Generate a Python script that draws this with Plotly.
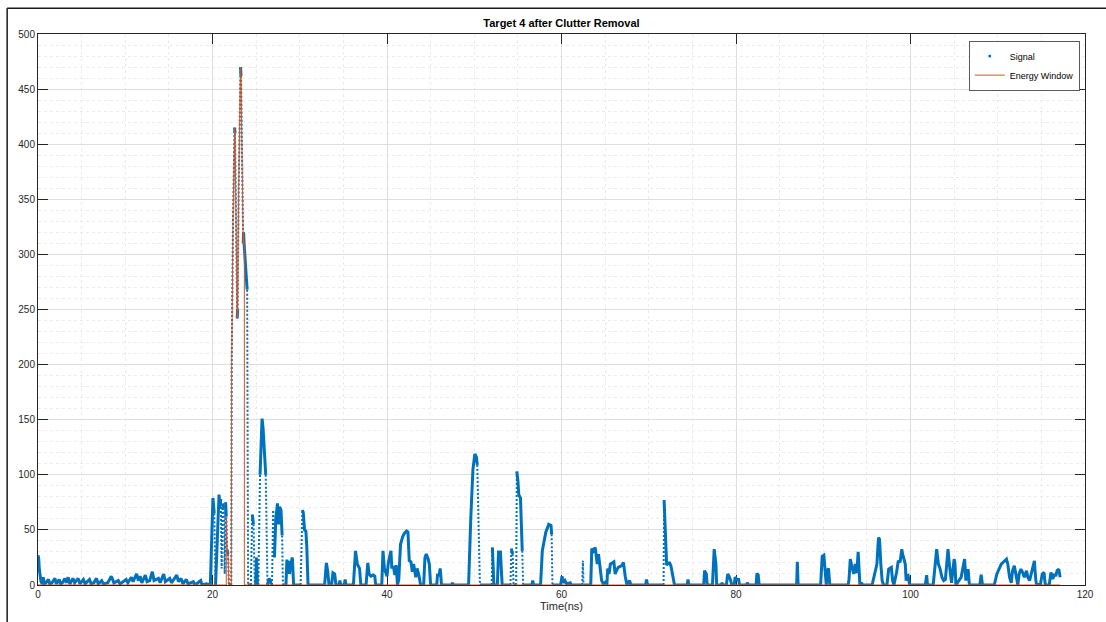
import numpy as np
import plotly.graph_objects as go

# Received signal after clutter removal (time in ns, amplitude)
time_ns = [
    0.0, 0.08, 0.15, 0.25, 0.35, 0.5, 0.6, 0.7, 0.9, 1.2, 1.35, 1.6, 1.94, 2.1, 2.43, 2.6, 2.8,
    3.07, 3.25, 3.45, 3.65, 4.0, 4.2, 4.6, 4.8, 5.2, 5.4, 5.9, 6.1, 6.4, 6.7, 6.9, 7.3, 7.5,
    8.0, 8.4, 8.7, 9.2, 9.4, 10.1, 10.3, 10.7, 10.9, 11.3, 11.5, 11.7, 11.9, 12.3, 12.5, 12.8,
    13.1, 13.3, 13.8, 14.0, 14.4, 14.6, 15.1, 15.3, 15.9, 16.1, 16.4, 16.6, 17.0, 17.2, 17.8,
    18.0, 18.5, 18.65, 18.8, 19.3, 19.75,
    19.9, 20.05, 20.2, 20.35, 20.55, 20.75, 20.85, 20.95, 21.05, 21.15, 21.3, 21.4, 21.5,
    21.58, 21.68, 21.78, 21.88, 22.15,
    22.2, 22.35, 22.53, 22.58, 22.7, 22.83, 22.88, 23.0, 23.21, 23.27, 23.4, 23.52, 23.56,
    23.65, 23.8, 23.97, 24.08,
    24.4, 24.55, 24.7, 24.85, 24.95, 25.05, 25.15, 25.25, 25.45, 25.68, 25.8, 26.1, 26.3,
    26.5, 26.7, 26.82, 26.95, 27.1, 27.25, 27.45, 27.58, 27.7, 27.85, 27.98, 28.07,
    28.42, 28.53, 28.62, 28.72, 28.82, 28.95, 29.15, 29.3,
    30.1, 30.3, 30.4, 30.55, 30.7, 30.8, 30.95,
    32.85, 33.05, 33.2, 33.35, 33.65, 33.8, 34.0, 34.15, 34.5, 34.6, 34.7, 35.1, 35.2, 35.3,
    36.15, 36.39, 36.6, 36.85, 37.0, 37.6, 37.8, 37.95, 38.15, 38.4, 38.6, 38.7,
    39.4, 39.54, 39.7, 39.9, 40.0, 40.15, 40.45, 40.55, 40.75, 40.9, 41.05, 41.2, 41.35,
    41.55, 41.8, 42.0, 42.25, 42.4, 42.55, 42.75, 42.9, 43.05, 43.3, 43.45, 43.65, 43.85,
    44.2, 44.35, 44.5, 44.7, 44.85, 45.0, 45.7, 45.8, 45.95, 46.1, 46.25, 47.4, 47.5, 47.6,
    49.35, 49.6, 49.85, 50.07, 50.25, 50.35, 50.65,
    52.0, 52.08, 52.25, 52.65, 52.78, 53.0, 53.2,
    54.15, 54.25, 54.4, 54.5, 54.8, 54.88, 55.0, 55.1, 55.3, 55.4, 55.5, 55.6,
    56.6, 56.7, 56.8, 57.6, 57.8, 58.2, 58.35, 58.54, 58.8, 58.87, 58.96,
    59.9, 60.06, 60.2, 60.4, 60.6, 61.0, 61.1, 62.38, 62.45, 62.52,
    63.35, 63.47, 63.65, 63.86, 64.0, 64.1, 64.24, 64.4, 64.5, 64.6, 64.8, 65.1, 65.2,
    65.3, 65.45, 65.6, 66.0, 66.15, 66.3, 66.5, 66.9, 67.1, 67.3, 67.5, 67.8, 67.95,
    69.65, 69.74, 69.85,
    71.7, 71.76, 71.9, 72.05, 72.25, 72.4, 72.55, 72.8, 72.95,
    74.4, 74.5, 74.6, 76.3, 76.4, 76.6, 76.7, 77.3, 77.5, 77.7, 77.78,
    78.3, 78.4, 78.5, 78.9, 79.05, 79.2, 79.4, 79.5, 79.8, 79.9, 80.1, 80.3, 80.4,
    81.2, 81.3, 81.45, 82.3, 82.4, 82.55, 82.65,
    86.95, 87.03, 87.12,
    89.7, 89.88, 90.07, 90.2, 90.35, 90.45, 90.6, 90.75,
    92.85, 92.95, 93.1, 93.3, 93.5, 93.67, 93.85, 94.0, 94.1, 94.2, 94.4, 94.5,
    95.6, 95.8, 96.0, 96.15, 96.33, 96.45, 96.6, 96.75, 96.9,
    97.3, 97.5, 97.8, 97.95, 98.1, 98.4, 98.6, 98.8, 99.0, 99.1, 99.3, 99.4, 99.5, 99.7, 99.9,
    101.7, 101.85, 101.95,
    102.6, 102.8, 103.0, 103.2, 103.4, 103.6, 103.8, 104.0, 104.15, 104.3, 104.45, 104.6,
    104.7, 105.0, 105.1, 105.2, 105.8, 106.2, 106.35, 106.6, 106.75,
    107.95, 108.1, 108.25,
    109.6, 109.9, 110.4, 110.8, 111.0, 111.15, 111.35, 111.55, 111.7, 111.9, 112.1, 112.3,
    112.45, 112.65, 112.85, 113.05, 113.3, 113.45, 113.65, 113.85, 114.0, 114.2, 114.3,
    114.4, 114.55, 114.9, 115.1, 115.3, 115.45, 115.9, 116.1, 116.3, 116.5, 116.65, 116.8,
    117.0, 117.15,
]
signal = [
    27, 24, 14, 8, 3, 1, 7, 1, 2, 5, 1, 2, 6, 1, 5, 1, 2,
    6, 2, 7, 1, 6, 2, 6, 1, 5, 1, 5, 1, 2, 6, 1, 4, 1,
    2, 8, 2, 4, 1, 5, 2, 7, 3, 10, 4, 8, 2, 9, 3, 4,
    12, 4, 6, 2, 10, 3, 6, 2, 9, 3, 6, 1, 5, 1, 3,
    0, 3, 4, 0, 1, 0,
    40, 79, 65, 0, 45, 82, 70, 78, 15, 74, 70, 10, 75,
    62, 32, 28, 0, 0,
    200, 330, 415, 410, 330, 242, 250, 360, 470, 462, 380, 310, 320,
    306, 290, 268, 0,
    0, 64, 55, 0, 0, 25, 0, 0, 100, 151, 142, 100, 0,
    6, 2, 0, 68, 25, 60, 74, 55, 71, 68, 45, 0,
    0, 23, 12, 22, 10, 18, 25, 0,
    0, 68, 66, 50, 49, 36, 0,
    0, 20, 13, 0, 0, 11, 10, 0, 0, 4, 0, 0, 5, 0,
    0, 31, 19, 15, 0, 0, 20, 10, 8, 9, 8, 0,
    0, 31, 15, 10, 8, 20, 31, 16, 16, 9, 18, 0, 5,
    37, 44, 47, 49, 48, 22, 21, 12, 19, 7, 15, 9, 0,
    0, 25, 28, 24, 19, 0, 0, 10, 8, 15, 0, 0, 2, 0,
    0, 60, 105, 119, 116, 109, 0,
    0, 34, 0, 0, 30, 30, 0,
    0, 33, 28, 0, 0, 103, 95, 82, 79, 55, 31, 0,
    0, 4, 0, 0, 31, 48, 52, 55, 54, 46, 0,
    0, 8, 2, 4, 1, 2, 0, 0, 22, 0,
    0, 33, 31, 34, 25, 19, 28, 16, 10, 4, 1, 3, 0,
    15, 10, 19, 21, 10, 13, 16, 17.5, 20.5, 8, 0, 4, 0,
    0, 5, 0,
    0, 77, 40, 18, 20, 20, 17, 7, 0,
    0, 5, 0, 0, 13, 10, 0, 0, 32.5, 19, 0,
    0, 2, 0, 0, 10, 8, 4, 0, 0, 7, 5, 5, 0,
    0, 2, 0, 0, 10.5, 9, 0,
    0, 21, 0,
    0, 26, 27, 16, 0, 13, 15, 0,
    0, 5, 23.5, 16, 10, 19, 11, 30, 10, 0, 2, 0,
    0, 7, 13, 19, 43, 41.5, 19, 4, 0,
    0, 14.4, 16, 4, 0, 11.4, 22, 20.5, 32.5, 28, 22, 19, 4, 10, 0,
    0, 9, 0,
    0, 16, 32.5, 19, 14.4, 7, 4, 5, 19, 32.5, 19, 7,
    2, 23.5, 19, 0, 7, 23.5, 4, 14.4, 0,
    0, 9.3, 0,
    0, 10, 19, 22, 23.5, 19, 7, 2, 13, 17.5, 7, 0,
    10, 14.4, 11.4, 7, 13, 7, 4, 10, 14.4, 22, 10,
    2, 0, 1, 10, 11.4, 0, 0, 11.4, 5.4, 10, 8, 13,
    14.4, 7,
]

# Gating interval of the energy window (ns)
window_start_ns = 21.58
window_end_ns = 23.65

x_ticks = [0, 20, 40, 60, 80, 100, 120]
y_ticks = [0, 50, 100, 150, 200, 250, 300, 350, 400, 450, 500]

W, H = 1106, 622
ML, MR, MT, MB = 38, 16, 34, 34
X_RANGE = (0, 120)
Y_RANGE = (0, 500)

BLUE = "#0072BD"
ORANGE = "#D95319"
AXIS = "#262626"
FONT = "Liberation Sans, Arial, sans-serif"

t = np.array(time_ns, dtype=float)
s = np.array(signal, dtype=float)

# Steep segments are drawn sparse/dotted, the rest as a dense solid trace
kx = (W - ML - MR) / (X_RANGE[1] - X_RANGE[0])
ky = (H - MT - MB) / (Y_RANGE[1] - Y_RANGE[0])
dx_px = np.abs(np.diff(t)) * kx
dy_px = np.abs(np.diff(s)) * ky
steep = (dy_px > 15) & (dy_px > 35 * np.maximum(dx_px, 1e-9))


def segment_runs(mask):
    xs, ys = [], []
    i, n = 0, len(mask)
    while i < n:
        if mask[i]:
            j = i
            while j < n and mask[j]:
                j += 1
            xs += list(t[i:j + 1]) + [None]
            ys += list(s[i:j + 1]) + [None]
            i = j
        else:
            i += 1
    return xs, ys


solid_x, solid_y = segment_runs(~steep)
dot_x, dot_y = segment_runs(steep)

# Energy window: signal inside the gate, zero elsewhere
inside = (t >= window_start_ns) & (t <= window_end_ns)
ew_x = [t[0], window_start_ns] + list(t[inside]) + [window_end_ns, t[-1]]
ew_y = [0, 0] + list(s[inside]) + [0, 0]

fig = go.Figure()
fig.add_trace(go.Scatter(x=solid_x, y=solid_y, mode="lines", connectgaps=False,
                         line=dict(color=BLUE, width=3), showlegend=False,
                         hoverinfo="skip"))
fig.add_trace(go.Scatter(x=dot_x, y=dot_y, mode="lines", connectgaps=False,
                         line=dict(color=BLUE, width=2, dash="2px,2px"),
                         showlegend=False, hoverinfo="skip"))
fig.add_trace(go.Scatter(x=[None], y=[None], mode="markers", name="Signal",
                         marker=dict(color=BLUE, size=3)))
fig.add_trace(go.Scatter(x=ew_x, y=ew_y, mode="lines", name="Energy Window",
                         line=dict(color=ORANGE, width=1)))

axis_common = dict(
    showline=True, linecolor=AXIS, linewidth=1, mirror="ticks",
    ticks="inside", ticklen=10, tickcolor=AXIS, tickwidth=1,
    showgrid=True, gridcolor="#dedede", gridwidth=1, zeroline=False,
    layer="below traces",
    tickfont=dict(family=FONT, size=10, color=AXIS),
)

fig.update_layout(
    width=W, height=H,
    margin=dict(l=ML, r=MR, t=MT, b=MB),
    paper_bgcolor="white", plot_bgcolor="white",
    title=dict(text="<b>Target 4 after Clutter Removal</b>",
               x=0.5, xref="paper", y=1 - 23 / H, yref="container", yanchor="middle",
               font=dict(family=FONT, size=11, color="#000")),
    xaxis=dict(range=list(X_RANGE), tickvals=x_ticks,
               title=dict(text="Time(ns)", standoff=2,
                          font=dict(family=FONT, size=11, color=AXIS)),
               minor=dict(dtick=5, showgrid=True, gridcolor="#ebebeb", griddash="dot", ticks=""),
               **axis_common),
    yaxis=dict(range=list(Y_RANGE), tickvals=y_ticks,
               minor=dict(dtick=10, showgrid=True, gridcolor="#ebebeb", griddash="dot", ticks=""),
               **axis_common),
    legend=dict(x=0.995, xanchor="right", y=0.988, yanchor="top",
                bgcolor="white", bordercolor="#5a5a5a", borderwidth=1,
                font=dict(family=FONT, size=9, color="#000"),
                itemwidth=30, tracegroupgap=0),
    showlegend=True,
)

# Window frame lines along the top and left edges
plot_w = W - ML - MR
plot_h = H - MT - MB
fx = (7 - ML) / plot_w
fy = (H - MB - 8) / plot_h
fig.add_shape(type="line", xref="paper", yref="paper", x0=fx, x1=1.2, y0=fy, y1=fy,
              line=dict(color="#1a1a1a", width=1.5))
fig.add_shape(type="line", xref="paper", yref="paper", x0=fx, x1=fx, y0=fy, y1=-0.2,
              line=dict(color="#1a1a1a", width=1.5))

fig.write_html("out.html")
